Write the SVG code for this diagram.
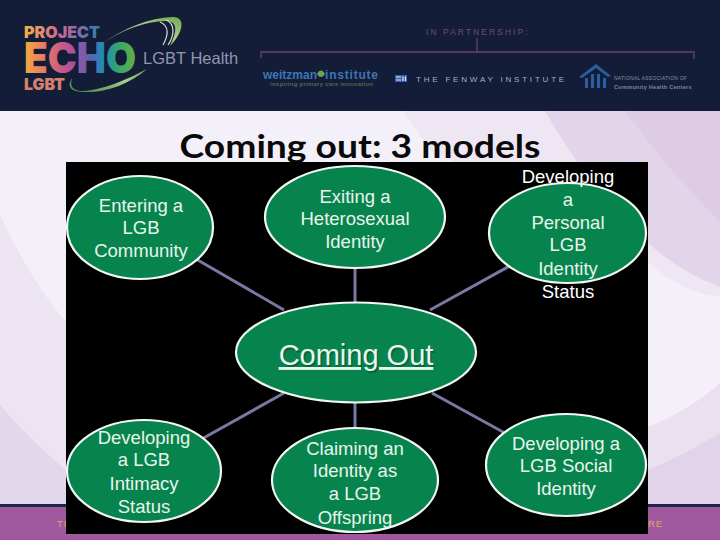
<svg xmlns="http://www.w3.org/2000/svg" width="720" height="540" viewBox="0 0 720 540">
<style>
.s{font-family:"Liberation Sans",Arial,sans-serif}
.h{font-family:Inter,"Liberation Sans",Arial,sans-serif;font-weight:900}
.n{fill:#07844e;stroke:#f4f8f5;stroke-width:2.2}
.t{font-family:"Liberation Sans",Arial,sans-serif;font-size:18.5px;fill:#e9f4ed;text-anchor:middle}
.w{fill:#fff}
.c{stroke:#7a78a3;stroke-width:3;fill:none}
.p{fill:none;stroke:#6c3f78;stroke-width:1.3}
</style>
<defs>
<linearGradient id="e" gradientUnits="userSpaceOnUse" x1="24" x2="135" y1="0" y2="0"><stop offset="0" stop-color="#f6ab40"/><stop offset=".22" stop-color="#e2706a"/><stop offset=".42" stop-color="#b44f9a"/><stop offset=".6" stop-color="#5b62b0"/><stop offset=".72" stop-color="#1c8fb8"/><stop offset=".85" stop-color="#35a56c"/><stop offset="1" stop-color="#62b045"/></linearGradient>
<linearGradient id="j" gradientUnits="userSpaceOnUse" x1="24" x2="100" y1="0" y2="0"><stop offset="0" stop-color="#f4b347"/><stop offset=".5" stop-color="#c9629a"/><stop offset="1" stop-color="#2b7fb4"/></linearGradient>
<linearGradient id="sw" x1="0" x2="1" y1="1" y2="0"><stop offset="0" stop-color="#3f7f4a"/><stop offset=".6" stop-color="#a9cf8c"/><stop offset="1" stop-color="#6fa84c"/></linearGradient>
</defs>
<rect width="720" height="540" fill="#f3f0f9"/>
<path d="M0,215Q30,280 66,322V505H0Z" fill="#ede4f2"/>
<path d="M0,405Q30,440 66,470V505H0Z" fill="#e3d7eb"/>
<path d="M600,427H648Q690,410 720,383V505H600Z" fill="#eae0f0"/>
<path d="M648,470Q690,452 720,433V505H648Z" fill="#e1d3e9"/>
<path d="M403,111H720V297Q680,292 648,262L430,150Z" fill="#efe6f3"/>
<path d="M545,111H720V287Q680,272 648,243Q590,190 545,111Z" fill="#e3d5e9"/>
<path d="M625,111H720V222Q670,172 625,111Z" fill="#decbe5"/>
<rect y="0" width="720" height="111" fill="#141d38"/>
<rect y="504" width="720" height="3.500" fill="#1f2547"/>
<rect y="507" width="720" height="33" fill="#a0599f"/>
<text class="s" x="57" y="527" font-size="9.500" fill="#e8a45a" letter-spacing="1">TI</text>
<text class="s" x="648" y="527" font-size="9.500" fill="#e8a45a" letter-spacing="1">RE</text>

<g id="logo">
<path d="M100,45C125,27 150,18 172,17C186,16 184,32 170,46C178,30 177,21 166,21C145,21 122,30 100,45Z" fill="url(#sw)"/>
<path d="M160,22C170,26 168,36 163,45M166,20C176,24 174,36 168,45" fill="none" stroke="#d5e4cf" stroke-width="1.2"/>
<path d="M72,78C68,90 78,93 92,90C110,87 130,78 147,69C130,84 105,93 85,92C72,92 66,88 72,78Z" fill="url(#sw)"/>
<text class="h" x="24" y="38" font-size="16" fill="url(#j)" textLength="76" lengthAdjust="spacingAndGlyphs">PROJECT</text>
<text class="h" x="24" y="73" font-size="43" fill="url(#e)" textLength="112" lengthAdjust="spacingAndGlyphs">ECHO</text>
<text class="h" x="24" y="90" font-size="16" fill="#d9806c" textLength="41" lengthAdjust="spacingAndGlyphs">LGBT</text>
<text class="s" x="143" y="64" font-size="16.500" fill="#9096ad">LGBT Health</text>
</g>

<g id="partners">
<text class="s" x="426" y="35" font-size="8.500" fill="#6f4a82" letter-spacing="2.050">IN PARTNERSHIP:</text>
<path class="p" d="M261,58V52H694V59M477,38V52"/>
<text class="s" x="263" y="79" font-size="12" font-weight="700" fill="#3f74b5" textLength="54">weitzman</text>
<text class="s" x="325" y="79" font-size="12" font-weight="700" fill="#3f74b5" textLength="53">institute</text>
<path d="M317,74C319,70 321,70 321,71C321,70 323,70 325,74C323,78 319,78 317,74Z" fill="#6fa24f"/>
<text class="s" x="270" y="86" font-size="6" font-weight="700" fill="#4f6a48" textLength="103">inspiring primary care innovation</text>
<g id="fenway-mark"><rect x="395" y="75" width="12" height="7" fill="#3560b0"/><path d="M396,77h5M396,80h5M403,76.500v4.500M405.500,76.500v4.500" stroke="#e4e8f2" stroke-width="1.200"/></g>
<text class="s" x="416" y="82" font-size="8" fill="#a9aebd" letter-spacing="2.800">THE FENWAY INSTITUTE</text>
<path d="M579,77L596,64L611,76L608,77L596,68L582,78Z" fill="#2a5ea0"/>
<path d="M585,78h3v10h-3zM591,74h3v14h-3zM597,74h3v14h-3zM603,78h3v10h-3z" fill="#2a5ea0"/>
<text class="s" x="614" y="80" font-size="4.900" fill="#8b90a6" letter-spacing=".3">NATIONAL ASSOCIATION OF</text>
<text class="s" x="614" y="88.500" font-size="5.600" font-weight="700" fill="#7f859c" letter-spacing=".25">Community Health Centers</text>
</g>

<text x="360" y="158" font-family="Lato,'Open Sans',sans-serif" font-size="33" font-weight="700" fill="#0a0a0a" text-anchor="middle" textLength="361" lengthAdjust="spacingAndGlyphs">Coming out: 3 models</text>
<rect x="66" y="162" width="582" height="372" fill="#000"/>

<g id="connectors">
<path class="c" d="M196,259L284,310"/>
<path class="c" d="M355,268V302"/>
<path class="c" d="M430,310L515,263"/>
<path class="c" d="M284,393L200,440"/>
<path class="c" d="M355,403V432"/>
<path class="c" d="M432,393L512,437"/>
</g>

<g id="node-entering">
<ellipse class="n" cx="140" cy="227.500" rx="73" ry="51.500"/>
<text class="t"><tspan x="141" y="212">Entering a</tspan><tspan x="141" y="234">LGB</tspan><tspan x="141" y="257">Community</tspan></text>
</g>
<g id="node-exiting">
<ellipse class="n" cx="355" cy="217" rx="90" ry="51"/>
<text class="t"><tspan x="355" y="203">Exiting a</tspan><tspan x="355" y="225">Heterosexual</tspan><tspan x="355" y="248">Identity</tspan></text>
</g>
<g id="node-personal">
<ellipse class="n" cx="567.500" cy="233" rx="78.500" ry="50"/>
<text class="t"><tspan class="w" x="568" y="183">Developing</tspan><tspan x="568" y="206">a</tspan><tspan x="568" y="229">Personal</tspan><tspan x="568" y="251">LGB</tspan><tspan x="568" y="275">Identity</tspan><tspan class="w" x="568" y="298">Status</tspan></text>
</g>
<g id="node-center">
<ellipse class="n" cx="356" cy="352.500" rx="120" ry="50"/>
<text x="357.500" y="366.500" font-size="29" fill="#0a4a2c" opacity=".55" class="s" text-anchor="middle">Coming Out</text>
<text x="356" y="365" font-size="29" fill="#e9f6ee" class="s" text-anchor="middle" text-decoration="underline">Coming Out</text>
</g>
<g id="node-intimacy">
<ellipse class="n" cx="144" cy="471" rx="77" ry="51"/>
<text class="t"><tspan x="144" y="444">Developing</tspan><tspan x="144" y="466">a LGB</tspan><tspan x="144" y="490">Intimacy</tspan><tspan x="144" y="513">Status</tspan></text>
</g>
<g id="node-offspring">
<ellipse class="n" cx="355" cy="480" rx="83" ry="52"/>
<text class="t"><tspan x="355" y="455">Claiming an</tspan><tspan x="355" y="477">Identity as</tspan><tspan x="355" y="500">a LGB</tspan><tspan x="355" y="524">Offspring</tspan></text>
</g>
<g id="node-social">
<ellipse class="n" cx="566" cy="465" rx="80" ry="51"/>
<text class="t"><tspan x="566" y="450">Developing a</tspan><tspan x="566" y="472">LGB Social</tspan><tspan x="566" y="495">Identity</tspan></text>
</g>
</svg>
